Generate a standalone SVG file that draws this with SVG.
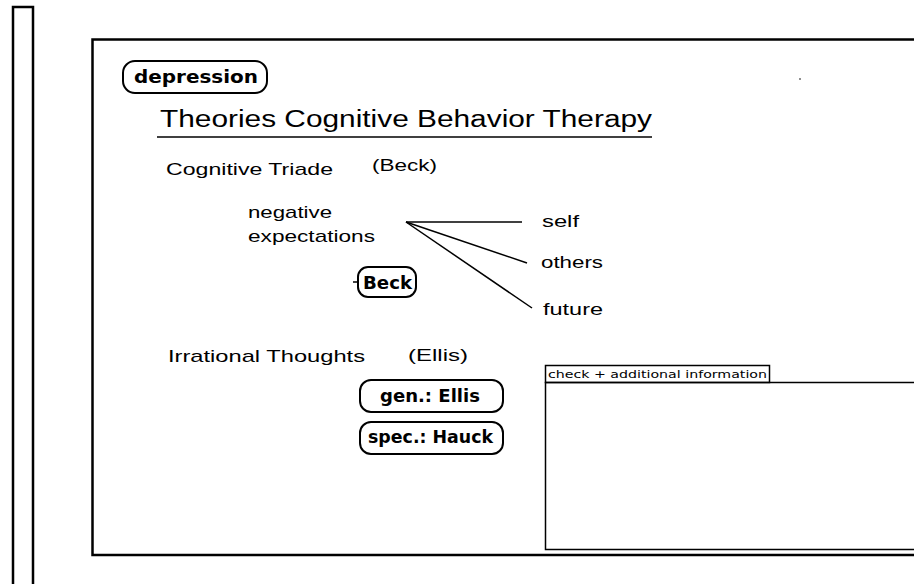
<svg xmlns="http://www.w3.org/2000/svg" width="914" height="584" viewBox="0 0 914 584">
<style>
.ln{fill:none;stroke:#000;stroke-width:2.5}
.pill{fill:#fff;stroke:#000;stroke-width:2}
.t{font-family:"Liberation Sans",Arial,sans-serif;font-size:17px;fill:#000}
.b{font-family:"DejaVu Sans","Liberation Sans",sans-serif;font-size:17px;font-weight:bold;fill:#000}
.conn{stroke:#000;stroke-width:1.5;fill:none}
</style>
<rect width="914" height="584" fill="#fff"/>
<g id="strip"><path class="ln" d="M13,584 V7 H33 V584"/></g>
<g id="frame"><path class="ln" d="M916,39.5 H92.5 V555 H916"/></g>
<circle cx="800" cy="79" r="0.8" fill="#000"/>
<g id="depression">
<rect class="pill" x="123" y="61" width="144" height="32" rx="12"/>
<text class="b" x="134" y="83" textLength="124" lengthAdjust="spacingAndGlyphs">depression</text>
</g>
<g id="title">
<text class="t" style="font-size:23px" x="160" y="127" textLength="492" lengthAdjust="spacingAndGlyphs">Theories Cognitive Behavior Therapy</text>
<line x1="157" y1="137" x2="652" y2="137" stroke="#000" stroke-width="1.5"/>
</g>
<g id="cognitive-triade">
<text class="t" x="166" y="175" textLength="167" lengthAdjust="spacingAndGlyphs">Cognitive Triade</text>
<text class="t" x="372" y="171" textLength="65" lengthAdjust="spacingAndGlyphs">(Beck)</text>
</g>
<g id="negative-expectations">
<text class="t" x="248" y="218" textLength="84" lengthAdjust="spacingAndGlyphs">negative</text>
<text class="t" x="248" y="242" textLength="127" lengthAdjust="spacingAndGlyphs">expectations</text>
</g>
<g id="self"><text class="t" x="542" y="227" textLength="37" lengthAdjust="spacingAndGlyphs">self</text></g>
<g id="others"><text class="t" x="541" y="268" textLength="62" lengthAdjust="spacingAndGlyphs">others</text></g>
<g id="future"><text class="t" x="543" y="315" textLength="60" lengthAdjust="spacingAndGlyphs">future</text></g>
<g id="connectors">
<line class="conn" x1="406" y1="222" x2="522" y2="222"/>
<line class="conn" x1="406" y1="222" x2="527" y2="263"/>
<line class="conn" x1="406" y1="222" x2="532" y2="308"/>
<line class="conn" x1="353" y1="282" x2="358" y2="282"/>
</g>
<g id="beck">
<rect class="pill" x="358" y="267" width="58" height="30" rx="10"/>
<text class="b" x="363" y="289" textLength="49" lengthAdjust="spacingAndGlyphs">Beck</text>
</g>
<g id="irrational-thoughts">
<text class="t" x="168" y="362" textLength="197" lengthAdjust="spacingAndGlyphs">Irrational Thoughts</text>
<text class="t" x="408" y="361" textLength="60" lengthAdjust="spacingAndGlyphs">(Ellis)</text>
</g>
<g id="gen-ellis">
<rect class="pill" x="360" y="380" width="143" height="32" rx="11"/>
<text class="b" x="380" y="402" textLength="100" lengthAdjust="spacingAndGlyphs">gen.: Ellis</text>
</g>
<g id="spec-hauck">
<rect class="pill" x="360" y="422" width="143" height="32" rx="11"/>
<text class="b" x="368" y="443" textLength="125" lengthAdjust="spacingAndGlyphs">spec.: Hauck</text>
</g>
<g id="check-box">
<rect x="545.5" y="365.5" width="224" height="17" fill="#fff" stroke="#000" stroke-width="1.5"/>
<text x="548" y="378" font-family="DejaVu Sans, sans-serif" font-size="11" textLength="219" lengthAdjust="spacingAndGlyphs">check + additional information</text>
<path d="M916,382.5 H545.5 V549.5 H916" fill="none" stroke="#000" stroke-width="1.5"/>
</g>
</svg>
